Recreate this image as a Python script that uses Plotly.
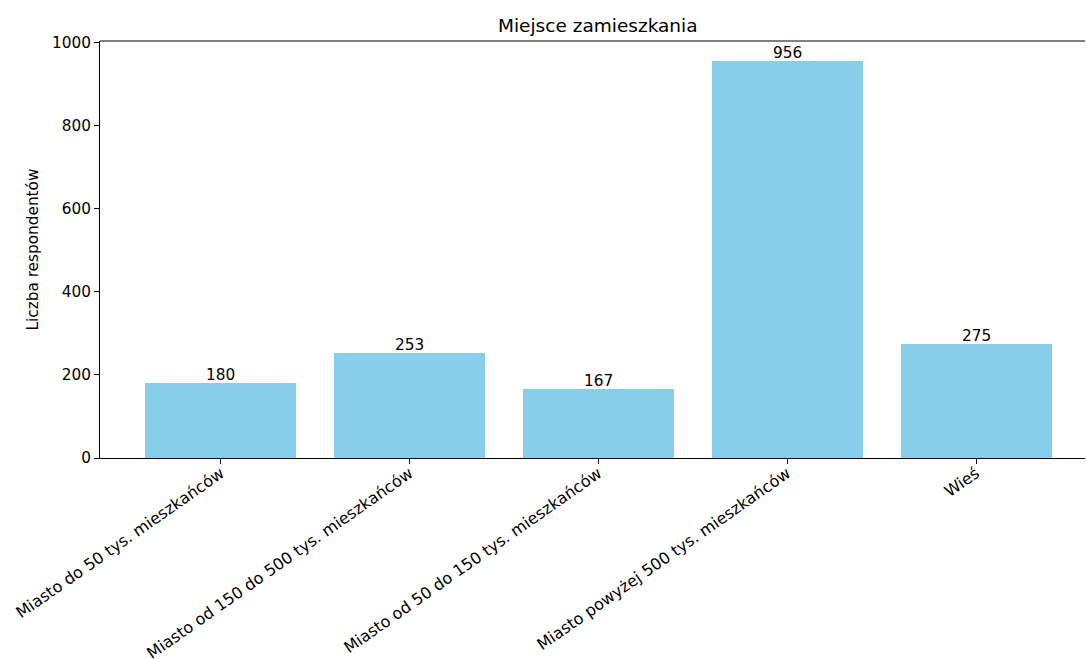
import plotly.graph_objects as go

categories = [
    "Miasto do 50 tys. mieszkańców",
    "Miasto od 150 do 500 tys. mieszkańców",
    "Miasto od 50 do 150 tys. mieszkańców",
    "Miasto powyżej 500 tys. mieszkańców",
    "Wieś",
]
counts = [180, 253, 167, 956, 275]
y_ticks = [0, 200, 400, 600, 800, 1000]

W, H = 1086, 659
L, R, T, B = 100, 1, 41, 201
FONT = "DejaVu Sans"
FS = 15.3

xs = list(range(len(categories)))

fig = go.Figure(
    go.Bar(
        x=xs,
        y=counts,
        width=0.8,
        marker=dict(color="#87CEEB", line=dict(width=0)),
        hoverinfo="x+y",
    )
)

plot_w = W - L - R
plot_h = H - T - B

value_labels = [
    dict(text=str(c), x=x, y=c, xref="x", yref="y",
         xanchor="center", yanchor="bottom", yshift=-2, borderpad=0,
         showarrow=False, font=dict(family=FONT, size=FS, color="#000000"))
    for x, c in zip(xs, counts)
]

fig.update_layout(
    width=W,
    height=H,
    margin=dict(l=L, r=R, t=T, b=B, pad=0),
    paper_bgcolor="white",
    plot_bgcolor="white",
    font=dict(family=FONT, size=FS, color="#000000"),
    showlegend=False,
    bargap=0,
    xaxis=dict(
        range=[-0.64, 4.577],
        tickmode="array",
        tickvals=xs,
        ticktext=categories,
        tickangle=-35,
        ticks="outside",
        ticklen=5,
        tickwidth=1,
        tickcolor="#000000",
        ticklabelstandoff=-6,
        showline=True,
        linecolor="#000000",
        linewidth=1,
        mirror=False,
        showgrid=False,
        zeroline=False,
        automargin=False,
        tickfont=dict(family=FONT, size=16, color="#000000"),
        fixedrange=True,
    ),
    yaxis=dict(
        range=[0, 1003.8],
        tickmode="array",
        tickvals=y_ticks,
        ticktext=[str(v) for v in y_ticks],
        ticks="outside",
        ticklen=5,
        tickwidth=1,
        tickcolor="#000000",
        showline=True,
        linecolor="#000000",
        linewidth=1,
        showgrid=False,
        zeroline=False,
        automargin=False,
        tickfont=dict(family=FONT, size=FS, color="#000000"),
        fixedrange=True,
    ),
    shapes=[
        dict(type="line", xref="paper", yref="paper", x0=0, x1=1, y0=1, y1=1,
             line=dict(color="#000000", width=1)),
    ],
    annotations=value_labels + [
        dict(text="Miejsce zamieszkania", xref="paper", yref="paper",
             x=(598 - L) / plot_w, y=1 + (T - 25) / plot_h,
             xanchor="center", yanchor="middle", showarrow=False,
             font=dict(family=FONT, size=18.5, color="#000000")),
        dict(text="Liczba respondentów", xref="paper", yref="paper",
             x=(32 - L) / plot_w, y=0.5, textangle=-90,
             xanchor="center", yanchor="middle", showarrow=False,
             font=dict(family=FONT, size=FS, color="#000000")),
    ],
)

fig.write_html(
    "out.html",
    config={"displayModeBar": False},
    post_script="document.body.style.margin='0';document.body.style.overflow='hidden';",
)
